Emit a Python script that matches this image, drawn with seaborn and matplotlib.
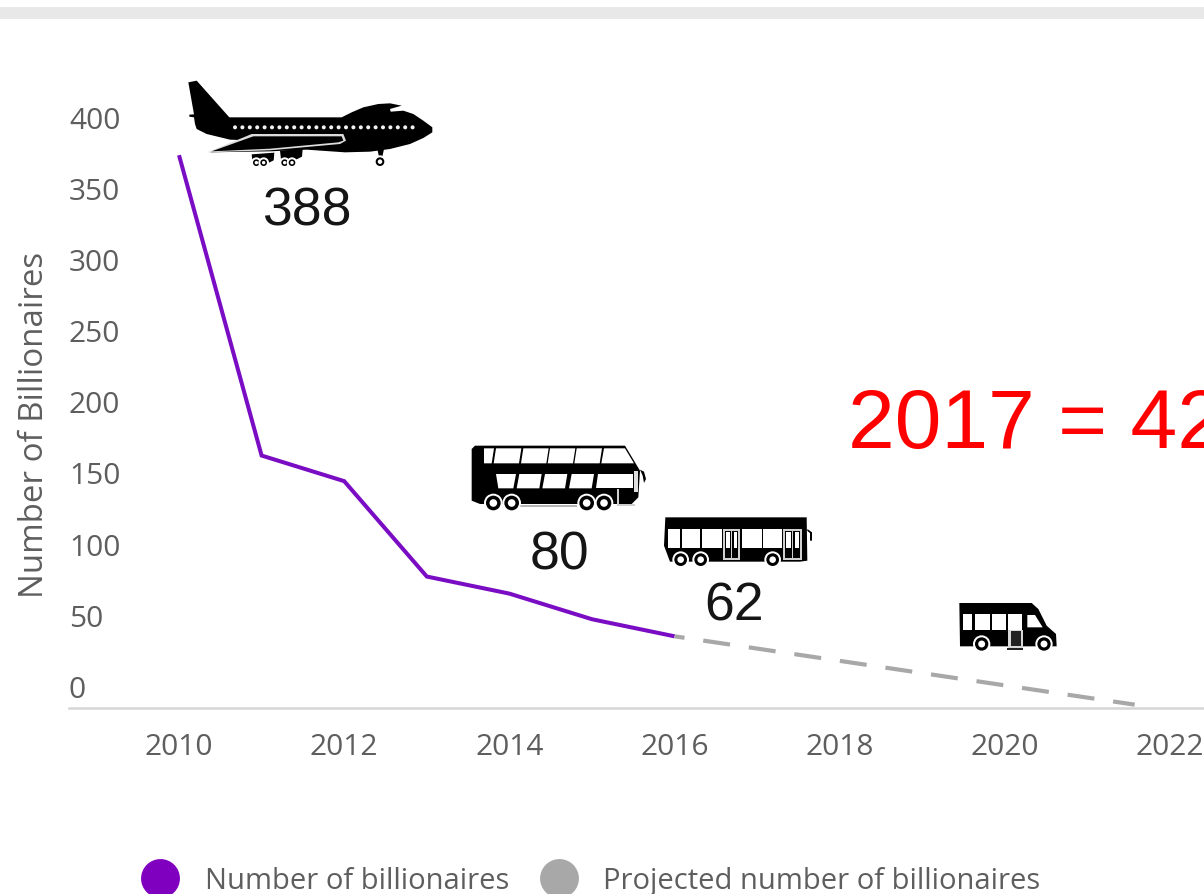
import matplotlib
matplotlib.use("Agg")
import matplotlib.pyplot as plt
import numpy as np
import pandas as pd
import seaborn as sns
from matplotlib.lines import Line2D
from matplotlib.patches import Circle, Polygon, Rectangle
from matplotlib.transforms import Affine2D, ScaledTranslation

W, H = 1204, 895

# Series
years = [2010, 2011, 2012, 2013, 2014, 2015, 2016]
billionaires = [388, 177, 159, 92, 80, 62, 50]
projected_years = [2016, 2021.57]
projected = [50, 2]

# Axis and annotation text
x_ticks = [2010, 2012, 2014, 2016, 2018, 2020, 2022]
y_ticks = [0, 50, 100, 150, 200, 250, 300, 350, 400]
y_title = "Number of Billionaires"
series_names = ["Number of billionaires", "Projected number of billionaires"]
headline = "2017 = 42"
callouts = ["388", "80", "62"]

PURPLE = "#7a0cc4"
GREY = "#a8a8a8"
TEXT = "#5e5e5e"

sns.set_theme(style="white")
plt.rcParams["font.family"] = ["Open Sans", "DejaVu Sans"]

fig = plt.figure(figsize=(W / 100, H / 100), dpi=100, facecolor="white")
ax = fig.add_axes([69 / W, (H - 708.5) / H, (W - 69) / W, 608 / H])
ax.patch.set_alpha(0)

frame = pd.DataFrame({"year": years, "count": billionaires})
outlook = pd.DataFrame({"year": projected_years, "count": projected})
sns.lineplot(data=frame, x="year", y="count", color=PURPLE, lw=2.9, ax=ax,
             errorbar=None, solid_joinstyle="miter", solid_capstyle="butt")
sns.lineplot(data=outlook, x="year", y="count", color=GREY, lw=3.0, ax=ax,
             errorbar=None, linestyle=(4.1, (6.5, 4.55)), dash_capstyle="butt")

ax.set_xlim(2010 - 110 / 82.6, 2010 + 1025 / 82.6)
ax.set_ylim(0, 608 / 1.4235)
ax.set_xlabel("")
ax.set_ylabel("")
ax.set_xticks(x_ticks, [str(t) for t in x_ticks])
ax.set_yticks(y_ticks, [str(t) for t in y_ticks])
for side in ("top", "right", "left"):
    ax.spines[side].set_visible(False)
ax.spines["bottom"].set_color("#d6d6d6")
ax.spines["bottom"].set_linewidth(1.8)
ax.tick_params(axis="both", length=0, labelsize=21.5, labelcolor=TEXT)
ax.tick_params(axis="x", pad=18)
ax.tick_params(axis="y", pad=0)

# The value labels sit above their levels, flush with the axis start
lift = ScaledTranslation(0.0, 0.215, fig.dpi_scale_trans)
for label in ax.get_yticklabels():
    label.set_horizontalalignment("left")
    label.set_transform(label.get_transform() + lift)

px = Affine2D().scale(1, -1).translate(0, H)  # top-left pixel coordinates

fig.add_artist(Rectangle((0, 8), W, 12, transform=px, color="#e8e8e8", lw=0))
fig.text(35 / W, 1 - 425 / H, y_title, rotation=90, fontsize=23.8, color=TEXT,
         ha="center", va="center")

for text, cx, base in zip(callouts, (307, 559, 734), (225, 570, 621)):
    fig.text(cx / W, 1 - base / H, text, fontsize=38.5, color="#151515",
             family="Liberation Sans", ha="center", va="baseline")
fig.text(848 / W, 1 - 448 / H, headline, fontsize=60.5, color="#ff0000",
         family="Liberation Sans", ha="left", va="baseline")


def poly(origin, pts, color="black"):
    pts = [(origin[0] + a / 3, origin[1] + b / 3) for a, b in pts]
    fig.add_artist(Polygon(pts, closed=True, transform=px, fc=color, ec="none"))


def disc(origin, x, y, r, color="black"):
    fig.add_artist(Circle((origin[0] + x / 3, origin[1] + y / 3), r / 3,
                          transform=px, fc=color, ec="none"))


def wheel(origin, x, y, r):
    disc(origin, x, y, r + 6, "white")
    disc(origin, x, y, r)
    disc(origin, x, y, r * 0.52, "white")


# Airliner
o = (170, 70)
poly(o, [(55, 40), (80, 35), (178, 145), (515, 145), (545, 130), (580, 115), (625, 105),
         (660, 103), (695, 110), (660, 120), (662, 128), (700, 125), (730, 135), (760, 155),
         (787, 175), (787, 190), (760, 207), (720, 225), (660, 240), (600, 248), (525, 250),
         (410, 242), (300, 247), (120, 250), (235, 214), (180, 212), (110, 195), (80, 180),
         (75, 165), (72, 145), (58, 143), (58, 137), (72, 136)])
for x in np.arange(195, 735, 22.2):
    disc(o, x, 175, 6, "#f2f2f2")
poly(o, [(112, 250), (245, 195), (520, 195), (528, 215), (510, 225), (300, 244)], "#dcdcdc")
poly(o, [(125, 247), (250, 202), (515, 202), (520, 215), (505, 220), (300, 239)])
for x0, top in ((245, 254), (330, 243)):
    poly(o, [(x0, top + 2), (x0 + 68, top - 3), (x0 + 66, top + 20), (x0 + 50, top + 28), (x0 + 3, top + 28)])
    wheel(o, x0 + 14, 281, 10)
    wheel(o, x0 + 36, 281, 10)
poly(o, [(622, 240), (642, 240), (636, 268), (628, 268)])
wheel(o, 630, 278, 13)

# Double-decker coach
o = (460, 430)
poly(o, [(35, 60), (45, 50), (495, 50), (540, 125), (535, 205), (515, 225), (60, 225), (35, 215)])
poly(o, [(72, 58), (102, 58), (95, 103), (72, 103)], "white")
for a in (108, 190, 270, 350):
    poly(o, [(a, 58), (a + 76, 58), (a + 69, 103), (a - 7, 103)], "white")
poly(o, [(432, 58), (495, 58), (522, 103), (424, 103)], "white")
poly(o, [(108, 135), (168, 135), (160, 178), (115, 178)], "white")
for a in (178, 255, 335):
    poly(o, [(a, 135), (a + 67, 135), (a + 60, 178), (a - 8, 178)], "white")
poly(o, [(415, 135), (520, 135), (520, 178), (408, 178)], "white")
poly(o, [(470, 180), (470, 232), (525, 232), (525, 225), (478, 225), (478, 180)], "#cfcfcf")
poly(o, [(522, 125), (535, 125), (535, 190), (522, 190)], "#dddddd")
poly(o, [(540, 122), (552, 128), (558, 150), (552, 162), (548, 140)])
poly(o, [(180, 228), (350, 228), (350, 234), (180, 234)], "#b5b5b5")
for x in (100, 155, 380, 432):
    wheel(o, x, 222, 22)

# City bus
poly(o, [(616, 265), (1040, 265), (1042, 395), (1020, 398), (630, 398), (612, 350)])
for a, b in ((625, 660), (665, 720), (725, 785), (845, 905), (910, 965)):
    poly(o, [(a, 300), (b, 300), (b, 358), (a, 358)], "white")
for a, b in ((790, 840), (970, 1025)):
    poly(o, [(a, 300), (b, 300), (b, 392), (a, 392)], "#d0d0d0")
    mid = (a + b) / 2
    poly(o, [(a + 5, 305), (mid - 2, 305), (mid - 2, 388), (a + 5, 388)])
    poly(o, [(mid + 2, 305), (b - 5, 305), (b - 5, 388), (mid + 2, 388)])
    poly(o, [(a + 9, 310), (mid - 6, 310), (mid - 6, 358), (a + 9, 358)], "white")
    poly(o, [(mid + 6, 310), (b - 9, 310), (b - 9, 358), (mid + 6, 358)], "white")
poly(o, [(1042, 300), (1056, 310), (1056, 335), (1050, 335), (1050, 312), (1042, 306)])
for x in (662, 722, 938):
    wheel(o, x, 392, 19)

# Minibus
o = (940, 590)
poly(o, [(58, 42), (275, 42), (295, 60), (320, 110), (348, 135), (350, 172), (60, 172)])
for a, b in ((68, 95), (105, 150), (155, 198), (205, 245)):
    poly(o, [(a, 75), (b, 75), (b, 122), (a, 122)], "white")
poly(o, [(262, 78), (285, 78), (308, 115), (262, 115)], "white")
poly(o, [(205, 122), (250, 122), (250, 182), (205, 182)], "#d8d8d8")
poly(o, [(212, 125), (242, 125), (242, 172), (212, 172)], "#222222")
poly(o, [(200, 176), (250, 176), (250, 182), (200, 182)], "#222222")
for x in (125, 312):
    wheel(o, x, 165, 20)

# Key at the foot of the figure
handles = [Line2D([], [], ls="none", marker="o", ms=28, mfc=c, mec="none")
           for c in ("#8000c0", GREY)]
fig.legend(handles, series_names, loc="center left", bbox_to_anchor=(138.3 / W, 1 - 882 / H), ncols=2,
           frameon=False, fontsize=21, labelcolor=TEXT, handletextpad=0.78,
           columnspacing=0.95, borderpad=0, borderaxespad=0, handlelength=1.5)

fig.savefig("out.png", dpi=100)
